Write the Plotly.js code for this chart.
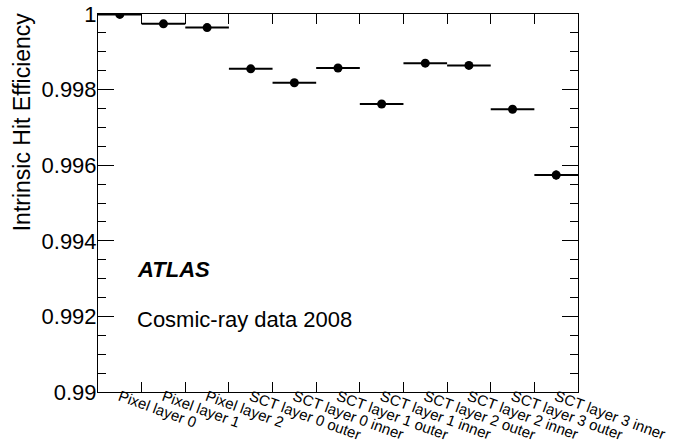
<!DOCTYPE html>
<html>
<head>
<meta charset="utf-8">
<script src="https://cdn.plot.ly/plotly-3.0.1.min.js"></script>
<style>html,body{margin:0;padding:0;background:#fff;}#chart{width:688px;height:443px;}</style>
</head>
<body>
<div id="chart"></div>
<script>
const categories = ["Pixel layer 0","Pixel layer 1","Pixel layer 2","SCT layer 0 outer","SCT layer 0 inner","SCT layer 1 outer","SCT layer 1 inner","SCT layer 2 outer","SCT layer 2 inner","SCT layer 3 outer","SCT layer 3 inner"];
const efficiency = [0.99999, 0.99974, 0.99964, 0.99855, 0.99818, 0.99857, 0.99762, 0.99870, 0.99864, 0.99748, 0.99574];
const effError = [0.00001, 0.00002, 0.00002, 0.00003, 0.00005, 0.00003, 0.00005, 0.00003, 0.00003, 0.00003, 0.00012];
const yTickVals = [0.99, 0.992, 0.994, 0.996, 0.998, 1.0];
const yTickText = ["0.99", "0.992", "0.994", "0.996", "0.998", "1"];

const idx = categories.map((c, i) => i);
const boundaries = idx.slice(1).map(i => i - 0.5);
const halfBin = idx.map(() => 0.5);

const font = "Liberation Sans, Arial, Helvetica, sans-serif";

const data = [{
  type: "scatter", mode: "markers",
  x: idx, y: efficiency,
  marker: {color: "black", size: 9},
  error_x: {type: "data", array: halfBin, visible: true, color: "black", thickness: 2, width: 0},
  error_y: {type: "data", array: effError, visible: true, color: "black", thickness: 2, width: 0},
  showlegend: false, hoverinfo: "x+y"
}, {
  type: "scatter", mode: "markers", xaxis: "x2",
  x: idx, y: efficiency, marker: {opacity: 0}, showlegend: false, hoverinfo: "skip"
}];

const layout = {
  width: 688, height: 443,
  margin: {l: 98, r: 110, t: 14, b: 51},
  paper_bgcolor: "white", plot_bgcolor: "white",
  font: {family: font, color: "black"},
  showlegend: false,
  xaxis: {
    range: [-0.5, 10.5], tickmode: "array", tickvals: boundaries,
    ticktext: boundaries.map(() => ""), ticks: "inside", ticklen: 10, tickcolor: "black", tickwidth: 1,
    showline: true, linecolor: "black", linewidth: 1, mirror: "ticks",
    showgrid: false, zeroline: false, fixedrange: true
  },
  xaxis2: {
    overlaying: "x", side: "bottom", anchor: "free", position: 0.02, range: [-0.5, 10.5],
    tickmode: "array", tickvals: idx, ticktext: categories, tickangle: 20,
    ticks: "", showline: false, showgrid: false, zeroline: false,
    tickfont: {family: font, size: 15, color: "black"}
  },
  yaxis: {
    range: [0.99, 1.0], tickmode: "array", tickvals: yTickVals, ticktext: yTickText,
    ticks: "inside", ticklen: 16, tickcolor: "black", tickwidth: 1,
    minor: {tickmode: "linear", tick0: 0.99, dtick: 0.0005, ticks: "inside", ticklen: 8, tickcolor: "black", tickwidth: 1, showgrid: false},
    showline: true, linecolor: "black", linewidth: 1, mirror: "ticks",
    showgrid: false, zeroline: false, ticklabelstandoff: -4,
    tickfont: {family: font, size: 22, color: "black"}
  },
  annotations: [
    {text: "Intrinsic Hit Efficiency", xref: "paper", yref: "paper", x: -0.158, y: 0.714,
     xanchor: "center", yanchor: "middle", textangle: -90, showarrow: false,
     font: {family: font, size: 23, color: "black"}},
    {text: "<b><i>ATLAS</i></b>", xref: "paper", yref: "paper", x: 0.077, y: 0.3228,
     xanchor: "left", yanchor: "middle", showarrow: false, font: {family: font, size: 22, color: "black"}},
    {text: "Cosmic-ray data 2008", xref: "paper", yref: "paper", x: 0.077, y: 0.1905,
     xanchor: "left", yanchor: "middle", showarrow: false, font: {family: font, size: 22, color: "black"}}
  ]
};

Plotly.newPlot("chart", data, layout, {displayModeBar: false, staticPlot: true});
</script>
</body>
</html>
